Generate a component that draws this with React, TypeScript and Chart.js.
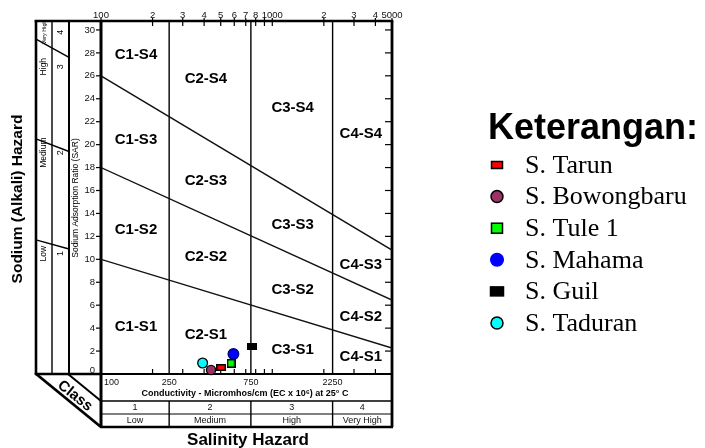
import { useEffect, useRef } from "react";
import { Chart, registerables } from "chart.js";

Chart.register(...registerables);

// ---------------- data ----------------
const stations = ["S. Tarun", "S. Bowongbaru", "S. Tule 1", "S. Mahama", "S. Guil", "S. Taduran"];
const conductivityEC = [503, 439, 575, 593, 764, 392];
const sodiumSAR = [0.57, 0.35, 0.93, 1.74, 2.38, 0.96];

const boundaryEC = [100, 5000];
const boundaryS1S2 = [10, 2.27];
const boundaryS2S3 = [18, 6.45];
const boundaryS3S4 = [26, 10.8];

const salinityBreaksEC = [250, 750, 2250];
const topTickValues = [100, 200, 300, 400, 500, 600, 700, 800, 900, 1000, 2000, 3000, 4000, 5000];
const topTickLabels = ["100", "2", "3", "4", "5", "6", "7", "8", "", "1000", "2", "3", "4", "5000"];
const sarTickValues = [0, 2, 4, 6, 8, 10, 12, 14, 16, 18, 20, 22, 24, 26, 28, 30];
const bottomTickValues = [100, 250, 750, 2250];
const salinityClassNumbers = ["1", "2", "3", "4"];
const salinityClassNames = ["Low", "Medium", "High", "Very High"];
const sodiumClassNumbers = ["1", "2", "3", "4"];
const sodiumClassNames = ["Low", "Medium", "High", "Very High"];
const zoneColumns = ["C1", "C2", "C3", "C4"];
const zoneRows = ["S1", "S2", "S3", "S4"];

// ---------------- styles / layout ----------------
const stationShapes = ["rect", "circle", "rect", "circle", "rect", "circle"];
const stationFill = ["#ff0000", "#993366", "#00ff00", "#0000ff", "#000000", "#00ffff"];
const stationStroke = ["#000000", "#000000", "#000000", "#00007a", "#000000", "#000000"];
const legendStroke = ["#000000", "#000000", "#000000", "#0000ff", "#000000", "#000000"];
const plotSize = [[8, 5], [4.6], [7, 7], [5.3], [8, 5], [4.9]];
const legendSize = [[11, 7], [6], [11, 10], [6.3], [13, 9], [6]];

const zoneLabelEC = [160, 410, 1315, 3289];
const zoneLabelSAR = [
  [4.1, 12.56, 20.41, 27.82],
  [3.4, 10.2, 16.83, 25.73],
  [2.09, 7.33, 12.99, 23.2],
  [1.48, 4.97, 9.51, 20.93],
];
const sodiumRowSAR = [10.5, 19.3, 26.8, 29.8];
const sodiumDiagSAR = [
  [11.7, 10.9],
  [20.5, 19.4],
  [29.2, 27.6],
];

const FONT = "'Liberation Sans', Arial, sans-serif";
const SERIF = "'Liberation Serif', 'Times New Roman', serif";

function seg(ctx: CanvasRenderingContext2D, x1: number, y1: number, x2: number, y2: number, w: number) {
  ctx.beginPath();
  ctx.lineWidth = w;
  ctx.moveTo(x1, y1);
  ctx.lineTo(x2, y2);
  ctx.stroke();
}

function txt(
  ctx: CanvasRenderingContext2D,
  s: string,
  x: number,
  y: number,
  font: string,
  align: CanvasTextAlign = "center",
  rot = 0,
  color = "#000"
) {
  ctx.save();
  ctx.translate(x, y);
  ctx.rotate(rot);
  ctx.font = font;
  ctx.textAlign = align;
  ctx.textBaseline = "middle";
  ctx.fillStyle = color;
  ctx.fillText(s, 0, 0);
  ctx.restore();
}

function marker(ctx: CanvasRenderingContext2D, i: number, x: number, y: number, size: number[]) {
  ctx.save();
  ctx.fillStyle = stationFill[i];
  ctx.strokeStyle = legendStroke[i];
  ctx.lineWidth = 1.5;
  if (stationShapes[i] === "rect") {
    const [w, h] = size;
    ctx.fillRect(x - w / 2, y - h / 2, w, h);
    ctx.strokeRect(x - w / 2, y - h / 2, w, h);
  } else {
    ctx.beginPath();
    ctx.arc(x, y, size[0], 0, Math.PI * 2);
    ctx.fill();
    ctx.stroke();
  }
  ctx.restore();
}

function makeRectStyle(i: number) {
  const [w, h] = plotSize[i];
  const c = document.createElement("canvas");
  c.width = w + 2;
  c.height = h + 2;
  const g = c.getContext("2d")!;
  g.fillStyle = stationStroke[i];
  g.fillRect(0, 0, w + 2, h + 2);
  g.fillStyle = stationFill[i];
  g.fillRect(1.5, 1.5, w - 1, h - 1);
  return c;
}

const ussl = {
  id: "ussl",
  beforeDatasetsDraw(chart: any) {
    const { ctx, chartArea: a, scales } = chart;
    const x = scales.x;
    const y = scales.y;
    const L = a.left, R = a.right, T = a.top, B = a.bottom;
    const colA = 36, colB = 52, colC = 69;
    const r1 = 401, r2 = 414, r3 = 427;
    ctx.save();
    ctx.strokeStyle = "#000";
    ctx.lineCap = "butt";

    // salinity class verticals
    for (const v of salinityBreaksEC) {
      const px = x.getPixelForValue(v);
      seg(ctx, px, T, px, B, 1.4);
      seg(ctx, px, r1, px, r3, 1.4);
    }

    // left panel
    seg(ctx, colA, T - 1, colA, B, 2.6);
    seg(ctx, colB, T, colB, B, 1.4);
    seg(ctx, colC, T, colC, B, 2);
    for (const d of sodiumDiagSAR) {
      seg(ctx, colA, y.getPixelForValue(d[0]), colC, y.getPixelForValue(d[1]), 1.4);
    }
    // class band
    seg(ctx, colA - 1, B, L, B, 2.4);
    seg(ctx, colA - 1, B - 1, L, r3, 2.8);
    seg(ctx, colC - 1, B, L, r1, 2);
    txt(ctx, "Class", 75, 396, `bold 15px ${FONT}`, "center", Math.atan2(54, 67));

    // bottom panel
    seg(ctx, L, r1, R, r1, 1.4);
    seg(ctx, L, r2, R, r2, 1.2);
    seg(ctx, L - 1, r3, R + 1, r3, 2.6);

    // frame
    seg(ctx, colA - 1.3, T, R + 1.3, T, 2.6);
    seg(ctx, L, T, L, r3, 3);
    seg(ctx, R, T, R, r3, 2.8);
    seg(ctx, L, B, R, B, 2.2);

    // top ticks + labels
    topTickValues.forEach((v, i) => {
      const px = x.getPixelForValue(v);
      seg(ctx, px, T - 3, px, T + 5, 1.2);
      if (topTickLabels[i]) txt(ctx, topTickLabels[i], px, 15, `9.5px ${FONT}`, "center", 0, "#111");
    });
    // bottom ticks (inside)
    topTickValues.forEach((v) => {
      const px = x.getPixelForValue(v);
      seg(ctx, px, B - 5, px, B, 1.2);
    });
    // SAR ticks
    sarTickValues.forEach((v) => {
      const py = y.getPixelForValue(v);
      if (v > 0) {
        seg(ctx, L - 5, py, L, py, 1.2);
        seg(ctx, R - 7, py, R, py, 1.2);
      }
      txt(ctx, String(v), L - 6, Math.min(py, B - 4), `9.5px ${FONT}`, "right", 0, "#111");
    });

    // axis titles
    txt(ctx, "Sodium Adsorption Ratio (SAR)", 76, 198, `8.5px ${FONT}`, "center", -Math.PI / 2);
    txt(ctx, "Sodium (Alkali) Hazard", 18, 199, `bold 15.5px ${FONT}`, "center", -Math.PI / 2);

    // sodium hazard class labels
    sodiumClassNames.forEach((n, i) => {
      const py = y.getPixelForValue(sodiumRowSAR[i]);
      const f = i === 3 ? `5.5px ${FONT}` : `8.5px ${FONT}`;
      txt(ctx, n, 44, py, f, "center", -Math.PI / 2);
      txt(ctx, sodiumClassNumbers[i], 61, py, `9px ${FONT}`, "center", -Math.PI / 2);
    });

    // bottom panel text
    bottomTickValues.forEach((v, i) => {
      const px = x.getPixelForValue(v);
      txt(ctx, String(v), i === 0 ? L + 3 : px, 383, `9px ${FONT}`, i === 0 ? "left" : "center", 0, "#111");
    });
    txt(ctx, "Conductivity - Micromhos/cm (EC x 10\u2076) at 25\u00b0 C", 245, 394, `bold 9px ${FONT}`);
    const edges = [x.getPixelForValue(100), ...salinityBreaksEC.map((v) => x.getPixelForValue(v)), x.getPixelForValue(5000)];
    for (let i = 0; i < 4; i++) {
      const cx = (edges[i] + edges[i + 1]) / 2;
      txt(ctx, salinityClassNumbers[i], cx, 408, `9px ${FONT}`, "center", 0, "#111");
      txt(ctx, salinityClassNames[i], cx, 421, `9px ${FONT}`, "center", 0, "#111");
    }
    txt(ctx, "Salinity Hazard", 248, 440, `bold 17px ${FONT}`);

    // zone labels
    zoneColumns.forEach((c, ci) => {
      zoneRows.forEach((s, si) => {
        txt(
          ctx,
          `${c}-${s}`,
          x.getPixelForValue(zoneLabelEC[ci]),
          y.getPixelForValue(zoneLabelSAR[ci][si]),
          `bold 15px ${FONT}`
        );
      });
    });
    ctx.restore();
  },
  afterDraw(chart: any) {
    const { ctx } = chart;
    ctx.save();
    txt(ctx, "Keterangan:", 488, 129, `bold 36px ${FONT}`, "left");
    stations.forEach((name, i) => {
      const base = 165 + i * 31.6;
      marker(ctx, i, 497, base, legendSize[i]);
      txt(ctx, name, 525, base + 1, `26px ${SERIF}`, "left");
    });
    ctx.restore();
  },
};

export default function App() {
  const ref = useRef<HTMLCanvasElement | null>(null);
  useEffect(() => {
    if (!ref.current) return;
    const boundary = (vals: number[]) => ({
      type: "line" as const,
      data: boundaryEC.map((e, i) => ({ x: e, y: vals[i] })),
      borderColor: "#111",
      borderWidth: 1.4,
      pointRadius: 0,
      showLine: true,
      order: 5,
      label: "",
    });
    const pointSets = stations.map((name, i) => ({
      type: "scatter" as const,
      label: name,
      data: [{ x: conductivityEC[i], y: sodiumSAR[i] }],
      pointStyle: stationShapes[i] === "rect" ? makeRectStyle(i) : "circle",
      pointRadius: stationShapes[i] === "rect" ? 5 : plotSize[i][0],
      backgroundColor: stationFill[i],
      borderColor: stationStroke[i],
      borderWidth: 1.3,
      clip: false as any,
      order: 1,
    }));
    const chart = new Chart(ref.current, {
      type: "scatter",
      data: {
        datasets: [boundary(boundaryS1S2), boundary(boundaryS2S3), boundary(boundaryS3S4), ...pointSets] as any,
      },
      options: {
        responsive: false,
        animation: false,
        layout: { padding: { left: 101, right: 705 - 392, top: 21, bottom: 448 - 374 } },
        scales: {
          x: { type: "logarithmic", min: 100, max: 5000, display: false },
          y: { type: "linear", min: 0, max: 30.78, display: false },
        },
        plugins: { legend: { display: false }, tooltip: { enabled: false } },
      },
      plugins: [ussl],
    });
    return () => chart.destroy();
  }, []);
  return (
    <div style={{ position: "absolute", left: 0, top: 0, width: 705, height: 448, background: "#fff" }}>
      <canvas ref={ref} width={705} height={448} style={{ display: "block", width: 705, height: 448 }} />
    </div>
  );
}
